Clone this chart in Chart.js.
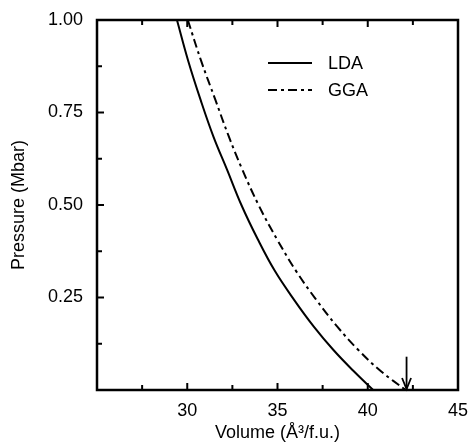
<!DOCTYPE html>
<html>
<head>
<meta charset="utf-8">
<script src="https://cdn.jsdelivr.net/npm/chart.js@4"></script>
<style>
  html, body { margin: 0; padding: 0; background: #fff; }
  #wrap { width: 470px; height: 445px; }
</style>
</head>
<body>
<div id="wrap"><canvas id="chart" width="470" height="445"></canvas></div>
<script>
// values
const ldaVolume = [29.43, 30.05, 30.74, 31.45, 32.21, 33.0, 33.9, 34.85, 35.93, 37.0, 38.1, 39.2, 40.3];
const ldaPressure = [1.0, 0.89, 0.784, 0.685, 0.595, 0.5, 0.408, 0.322, 0.243, 0.172, 0.108, 0.052, 0.0];
const ggaVolume = [30.03, 30.78, 31.56, 32.28, 33.03, 33.98, 35.0, 36.05, 37.13, 38.3, 39.48, 40.75, 42.1];
const ggaPressure = [1.0, 0.888, 0.784, 0.688, 0.598, 0.497, 0.405, 0.32, 0.245, 0.172, 0.108, 0.05, 0.0];
const seriesNames = ['LDA', 'GGA'];
const arrowVolume = 42.15;
const arrowPressure = [0.09, 0.0];

const xMajor = [30, 35, 40, 45];
const yMajor = [0.25, 0.5, 0.75, 1.0];

const FONT = 'Liberation Sans, Arial, Helvetica, sans-serif';

function toPoints(xs, ys) {
    return xs.map((x, i) => ({ x: x, y: ys[i] }));
}

// box, inward ticks, legend and arrow
const decorations = {
    id: 'decorations',
    afterDraw(chart) {
        const ctx = chart.ctx;
        const a = chart.chartArea;
        const xs = chart.scales.x;
        const ys = chart.scales.y;
        ctx.save();
        ctx.strokeStyle = '#000';
        ctx.lineWidth = 2.5;
        ctx.strokeRect(a.left, a.top, a.right - a.left, a.bottom - a.top);

        ctx.lineWidth = 2;
        xs.ticks.forEach(t => {
            const px = xs.getPixelForValue(t.value);
            const len = xMajor.includes(t.value) ? 7 : 5;
            ctx.beginPath();
            ctx.moveTo(px, a.bottom);
            ctx.lineTo(px, a.bottom - len);
            ctx.moveTo(px, a.top);
            ctx.lineTo(px, a.top + len);
            ctx.stroke();
        });
        ys.ticks.forEach(t => {
            const py = ys.getPixelForValue(t.value);
            const len = yMajor.includes(t.value) ? 7 : 5;
            ctx.beginPath();
            ctx.moveTo(a.left, py);
            ctx.lineTo(a.left + len, py);
            ctx.stroke();
        });

        // arrow marking the zero-pressure volume
        const ax = xs.getPixelForValue(arrowVolume);
        const y0 = ys.getPixelForValue(arrowPressure[0]);
        const y1 = ys.getPixelForValue(arrowPressure[1]);
        ctx.lineWidth = 1.8;
        ctx.beginPath();
        ctx.moveTo(ax, y0);
        ctx.lineTo(ax, y1 - 1);
        ctx.stroke();
        ctx.beginPath();
        ctx.moveTo(ax - 4.5, y1 - 12);
        ctx.lineTo(ax, y1 - 1);
        ctx.lineTo(ax + 4.5, y1 - 12);
        ctx.stroke();

        // legend
        const lx0 = 268, lx1 = 312;
        const rows = [63, 90];
        ctx.font = '18px ' + FONT;
        ctx.fillStyle = '#000';
        ctx.textBaseline = 'middle';
        chart.data.datasets.forEach((ds, i) => {
            ctx.lineWidth = 2;
            ctx.setLineDash(ds.borderDash || []);
            ctx.beginPath();
            ctx.moveTo(lx0, rows[i]);
            ctx.lineTo(lx1, rows[i]);
            ctx.stroke();
            ctx.setLineDash([]);
            ctx.fillText(ds.label, 328, rows[i] + 1);
        });
        ctx.restore();
    }
};

new Chart(document.getElementById('chart'), {
    type: 'line',
    data: {
        datasets: [
            {
                label: seriesNames[0],
                data: toPoints(ldaVolume, ldaPressure),
                borderColor: '#000',
                borderWidth: 2,
                pointRadius: 0,
                tension: 0.4,
                fill: false
            },
            {
                label: seriesNames[1],
                data: toPoints(ggaVolume, ggaPressure),
                borderColor: '#000',
                borderWidth: 2,
                borderDash: [9, 4, 3, 4],
                pointRadius: 0,
                tension: 0.4,
                fill: false
            }
        ]
    },
    options: {
        responsive: false,
        animation: false,
        layout: { padding: { top: 20, right: 12, left: 0, bottom: 0 } },
        plugins: {
            legend: { display: false },
            tooltip: { enabled: false }
        },
        scales: {
            x: {
                type: 'linear',
                min: 25,
                max: 45,
                afterFit: s => { s.height = 55; s.paddingLeft = 0; s.paddingRight = 0; },
                grid: { display: false, drawTicks: false },
                border: { display: false },
                ticks: {
                    stepSize: 2.5,
                    padding: 10,
                    color: '#000',
                    font: { family: FONT, size: 18 },
                    autoSkip: false,
                    maxRotation: 0,
                    callback: v => (xMajor.includes(v) ? String(v) : '')
                },
                title: {
                    display: true,
                    text: 'Volume (Å³/f.u.)',
                    color: '#000',
                    font: { family: FONT, size: 18 },
                    padding: { top: 0, bottom: 1 }
                }
            },
            y: {
                type: 'linear',
                min: 0,
                max: 1,
                afterFit: s => { s.width = 97; s.paddingTop = 0; s.paddingBottom = 0; },
                grid: { display: false, drawTicks: false },
                border: { display: false },
                ticks: {
                    stepSize: 0.125,
                    padding: 14,
                    color: '#000',
                    font: { family: FONT, size: 18 },
                    autoSkip: false,
                    callback: v => (yMajor.includes(v) ? v.toFixed(2) : '')
                },
                title: {
                    display: true,
                    text: 'Pressure (Mbar)',
                    color: '#000',
                    font: { family: FONT, size: 18 },
                    padding: { top: 8, bottom: 0 }
                }
            }
        }
    },
    plugins: [decorations]
});
</script>
</body>
</html>
